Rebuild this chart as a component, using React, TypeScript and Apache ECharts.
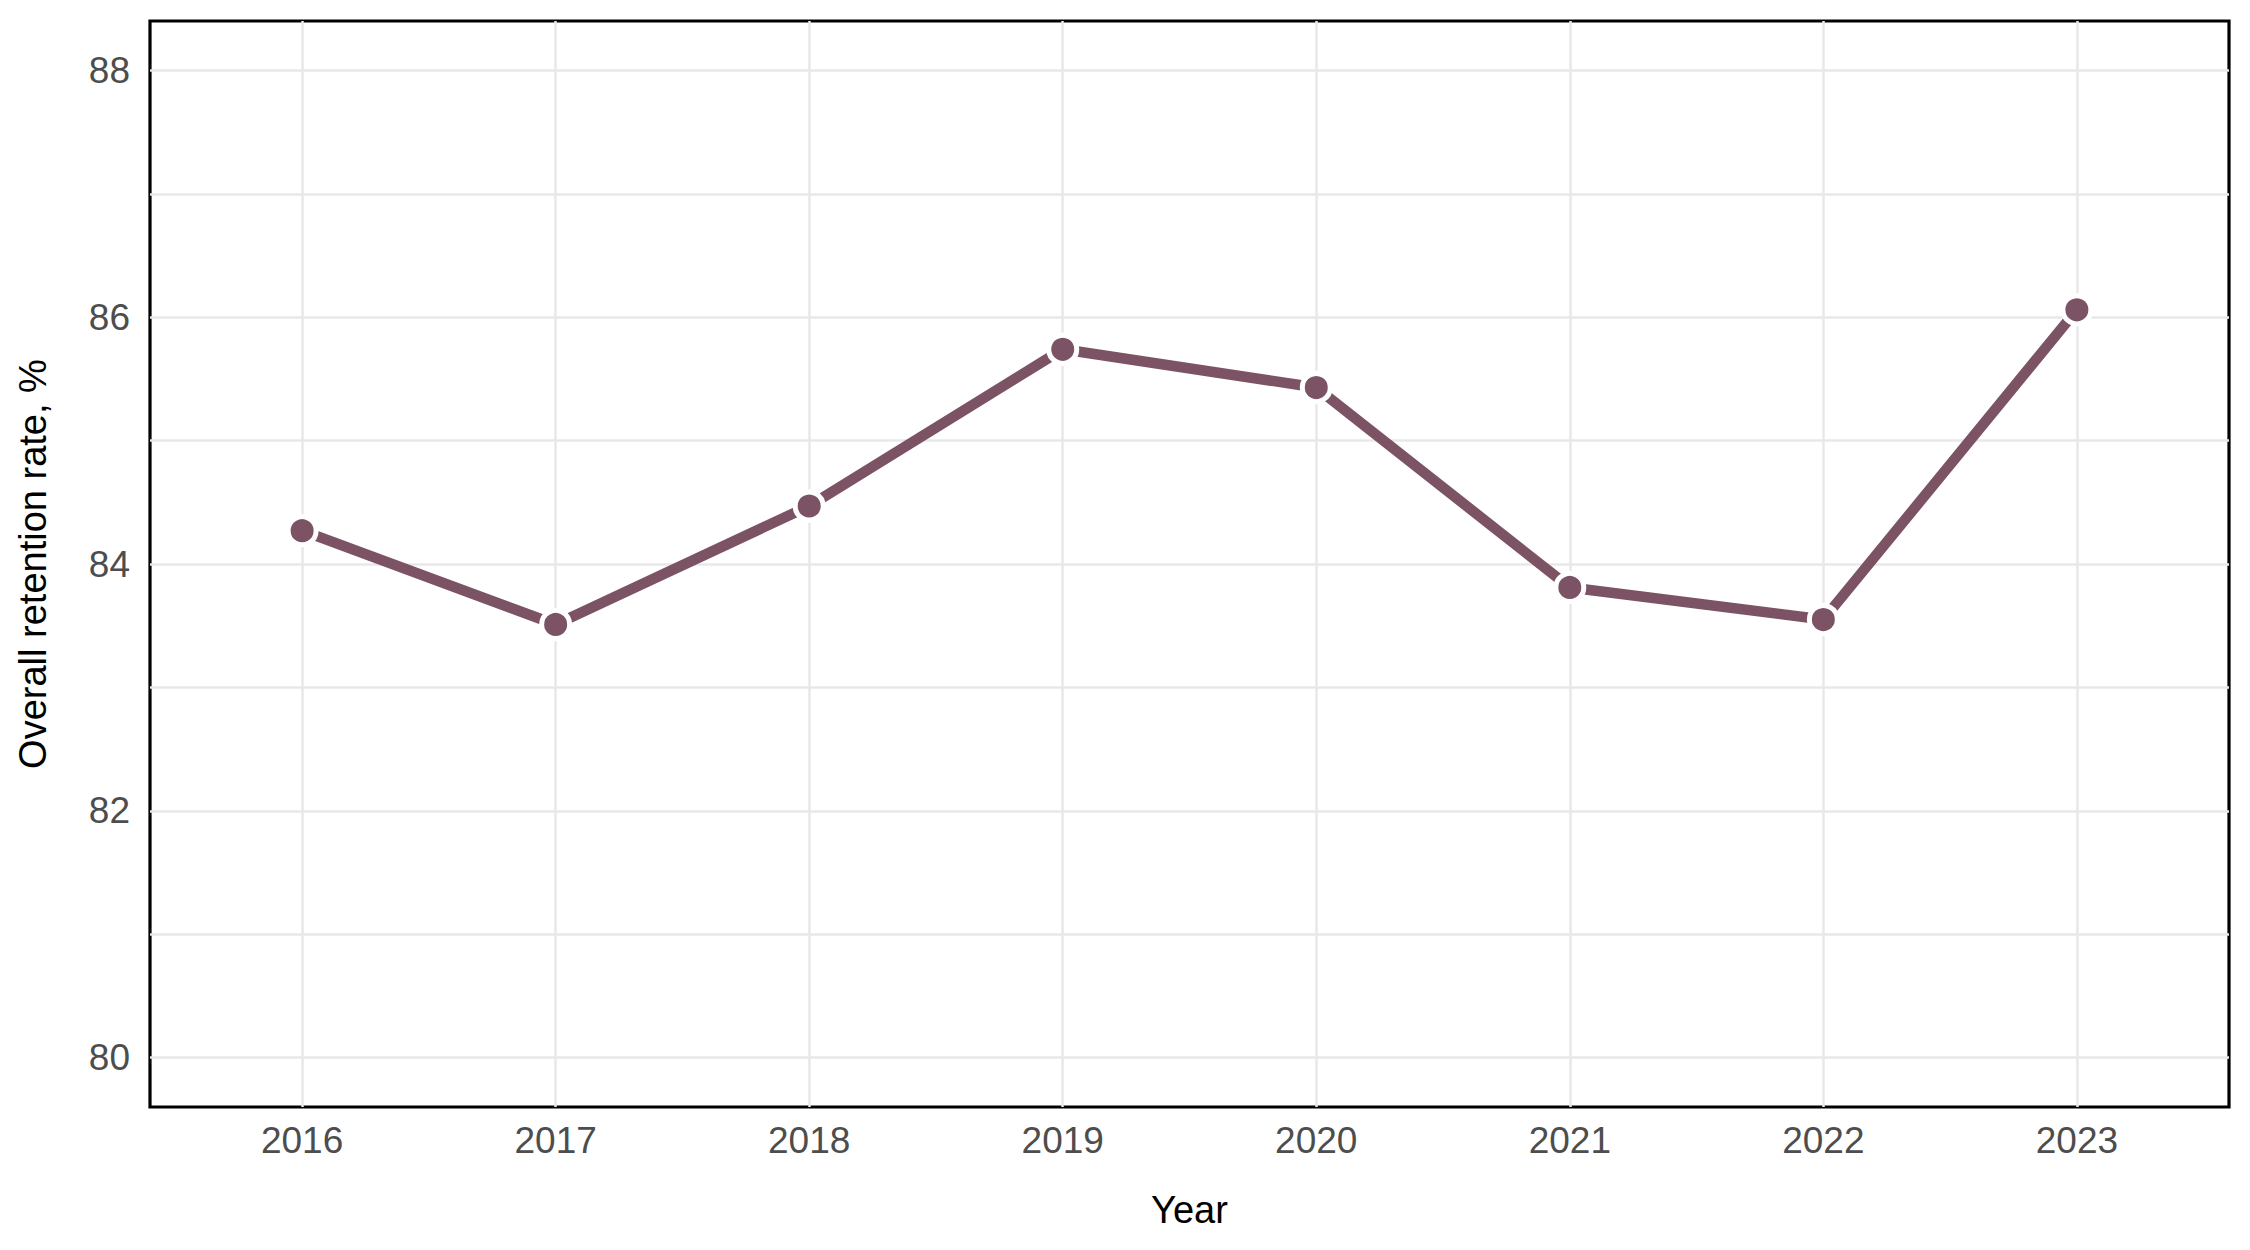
import React, { useEffect, useRef } from "react";
import * as echarts from "echarts";

const years = [2016, 2017, 2018, 2019, 2020, 2021, 2022, 2023];
const retention = [84.27, 83.51, 84.47, 85.74, 85.43, 83.81, 83.55, 86.06];
const yGridValues = [80, 81, 82, 83, 84, 85, 86, 87, 88];
const yLabelValues = [80, 82, 84, 86, 88];
const xTitle = "Year";
const yTitle = "Overall retention rate, %";

const FONT = "'Liberation Sans', Arial, Helvetica, sans-serif";

export default function App() {
  const ref = useRef<HTMLDivElement>(null);
  useEffect(() => {
    if (!ref.current) return;
    const chart = echarts.init(ref.current, undefined, { renderer: "svg" });
    const option = {
      animation: false,
      backgroundColor: "#ffffff",
      grid: {
        left: 150,
        top: 21,
        right: 21,
        bottom: 143,
        show: true,
        borderColor: "#000000",
        borderWidth: 3.2,
        backgroundColor: "transparent",
        containLabel: false,
      },
      xAxis: {
        type: "value",
        min: 2015.4,
        max: 2023.6,
        name: xTitle,
        nameLocation: "middle",
        nameGap: 84,
        nameTextStyle: { fontFamily: FONT, fontSize: 38, color: "#000000" },
        axisLine: { show: false },
        axisTick: { show: false, customValues: years },
        axisLabel: {
          customValues: years,
          fontFamily: FONT,
          fontSize: 37,
          color: "#4D4D4D",
          margin: 15,
          formatter: (v: number) => String(Math.round(v)),
        },
        splitLine: { show: true, lineStyle: { color: "#E8E8E8", width: 2.5 } },
      },
      yAxis: {
        type: "value",
        min: 79.6,
        max: 88.4,
        name: yTitle,
        nameLocation: "middle",
        nameGap: 98,
        nameRotate: 90,
        nameTextStyle: { fontFamily: FONT, fontSize: 38, color: "#000000" },
        axisLine: { show: false },
        axisTick: { show: false, customValues: yGridValues },
        axisLabel: {
          customValues: yLabelValues,
          fontFamily: FONT,
          fontSize: 37,
          color: "#4D4D4D",
          margin: 20,
          formatter: (v: number) => String(Math.round(v)),
        },
        splitLine: { show: true, lineStyle: { color: "#E8E8E8", width: 2.5 } },
      },
      series: [
        {
          type: "line",
          data: years.map((y, i) => [y, retention[i]]),
          lineStyle: { color: "#7C5265", width: 10.5 },
          itemStyle: { color: "#7C5265", borderColor: "#ffffff", borderWidth: 5 },
          symbol: "circle",
          symbolSize: 28,
          z: 5,
        },
      ],
    };
    chart.setOption(option as any);
    return () => chart.dispose();
  }, []);
  return (
    <div
      ref={ref}
      style={{ position: "fixed", left: 0, top: 0, width: 2250, height: 1250, background: "#fff" }}
    />
  );
}
